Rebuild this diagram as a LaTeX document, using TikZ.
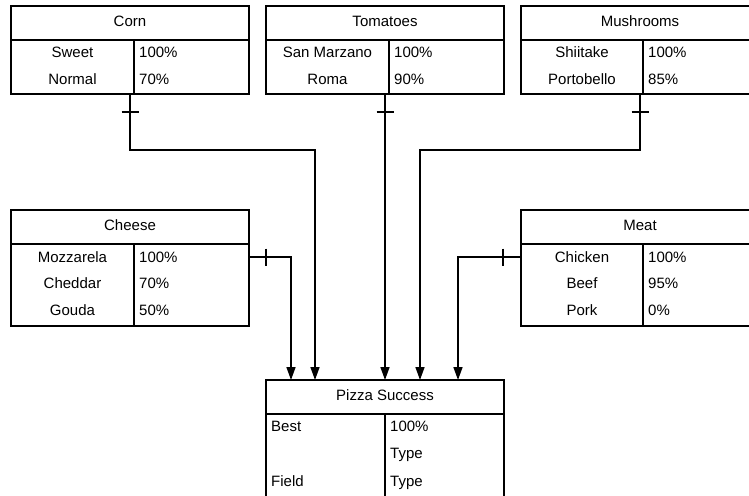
\documentclass[tikz,border=0pt]{standalone}
\usepackage{fontspec}
\setmainfont{Liberation Sans}
\usetikzlibrary{arrows.meta,calc}

\begin{document}
\begin{tikzpicture}[x=1pt,y=-1pt,
  box/.style={draw, line width=1.8pt, minimum width=238pt, inner sep=0pt, outer sep=0pt},
  head/.style={box, minimum height=34pt, text height=10.74pt, text depth=3pt,
               font=\fontsize{15}{18}\selectfont},
  txt/.style={inner sep=0pt, text height=10.74pt, text depth=0pt,
              font=\fontsize{15}{18}\selectfont},
  lft/.style={txt, anchor=west},
  divider/.style={line width=1.8pt},
  link/.style={line width=1.6pt},
  tickmark/.style={line width=1.6pt},
  flow/.style={link, -{Triangle[length=13pt,width=9pt]}}
]
\useasboundingbox (0,0) rectangle (749,495);
\clip (0,0) rectangle (749,495);

% ---------- Corn ----------
\node[head] (corn) at (130,23) {Corn};
\node[box, minimum height=54pt] (corn-body) at (130,67) {};
\draw[divider] ([xshift=4pt]corn-body.north) -- ([xshift=4pt]corn-body.south);
\node[txt] (corn-a) at (72.5,52) {Sweet};
\node[lft] (corn-av) at (139,52) {100\%};
\node[txt] (corn-b) at (72.5,79) {Normal};
\node[lft] (corn-bv) at (139,79) {70\%};

% ---------- Tomatoes ----------
\node[head] (tom) at (385,23) {Tomatoes};
\node[box, minimum height=54pt] (tom-body) at (385,67) {};
\draw[divider] ([xshift=4pt]tom-body.north) -- ([xshift=4pt]tom-body.south);
\node[txt] (tom-a) at (327.5,52) {San Marzano};
\node[lft] (tom-av) at (394,52) {100\%};
\node[txt] (tom-b) at (327.5,79) {Roma};
\node[lft] (tom-bv) at (394,79) {90\%};

% ---------- Mushrooms ----------
\node[head] (mush) at (640,23) {Mushrooms};
\node[box, minimum height=54pt] (mush-body) at (640,67) {};
\draw[divider] ([xshift=3pt]mush-body.north) -- ([xshift=3pt]mush-body.south);
\node[txt] (mush-a) at (582,52) {Shiitake};
\node[lft] (mush-av) at (648,52) {100\%};
\node[txt] (mush-b) at (582,79) {Portobello};
\node[lft] (mush-bv) at (648,79) {85\%};

% ---------- Cheese ----------
\node[head] (cheese) at (130,227) {Cheese};
\node[box, minimum height=82pt] (cheese-body) at (130,285) {};
\draw[divider] ([xshift=4pt]cheese-body.north) -- ([xshift=4pt]cheese-body.south);
\node[txt] (chz-a) at (72.5,257) {Mozzarela};
\node[lft] (chz-av) at (139,257) {100\%};
\node[txt] (chz-b) at (72.5,283) {Cheddar};
\node[lft] (chz-bv) at (139,283) {70\%};
\node[txt] (chz-c) at (72.5,310) {Gouda};
\node[lft] (chz-cv) at (139,310) {50\%};

% ---------- Meat ----------
\node[head] (meat) at (640,227) {Meat};
\node[box, minimum height=82pt] (meat-body) at (640,285) {};
\draw[divider] ([xshift=3pt]meat-body.north) -- ([xshift=3pt]meat-body.south);
\node[txt] (meat-a) at (582,257) {Chicken};
\node[lft] (meat-av) at (648,257) {100\%};
\node[txt] (meat-b) at (582,283) {Beef};
\node[lft] (meat-bv) at (648,283) {95\%};
\node[txt] (meat-c) at (582,310) {Pork};
\node[lft] (meat-cv) at (648,310) {0\%};

% ---------- Pizza Success ----------
\node[head] (pizza) at (385,397) {Pizza Success};
\node[box, minimum height=96pt] (pizza-body) at (385,462) {};
\draw[divider] (pizza-body.north) -- (pizza-body.south);
\node[lft] (pz-a) at (271,426) {Best};
\node[lft] (pz-av) at (390,426) {100\%};
\node[lft] (pz-bv) at (390,453) {Type};
\node[lft] (pz-c) at (271,481) {Field};
\node[lft] (pz-cv) at (390,481) {Type};

% ---------- connectors ----------
\coordinate (chz-out) at (cheese-body.east |- chz-a);
\coordinate (meat-out) at (meat-body.west |- meat-a);

\draw[flow] (corn-body.south) -- ++(0,56) -| ([xshift=-70pt]pizza.north);
\draw[flow] (tom-body.south) -- (pizza.north);
\draw[flow] (mush-body.south) -- ++(0,56) -| ([xshift=35pt]pizza.north);
\draw[flow] (chz-out) -| ([xshift=-94pt]pizza.north);
\draw[flow] (meat-out) -| ([xshift=73pt]pizza.north);

% one-side bars near each source table
\draw[tickmark] ($(corn-body.south)+(-8.5,18)$) -- ++(17,0);
\draw[tickmark] ($(tom-body.south)+(-8.5,18)$) -- ++(17,0);
\draw[tickmark] ($(mush-body.south)+(-8.5,18)$) -- ++(17,0);
\draw[tickmark] ($(chz-out)+(17,-8.5)$) -- ++(0,17);
\draw[tickmark] ($(meat-out)+(-18,-8.5)$) -- ++(0,17);
\end{tikzpicture}
\end{document}
